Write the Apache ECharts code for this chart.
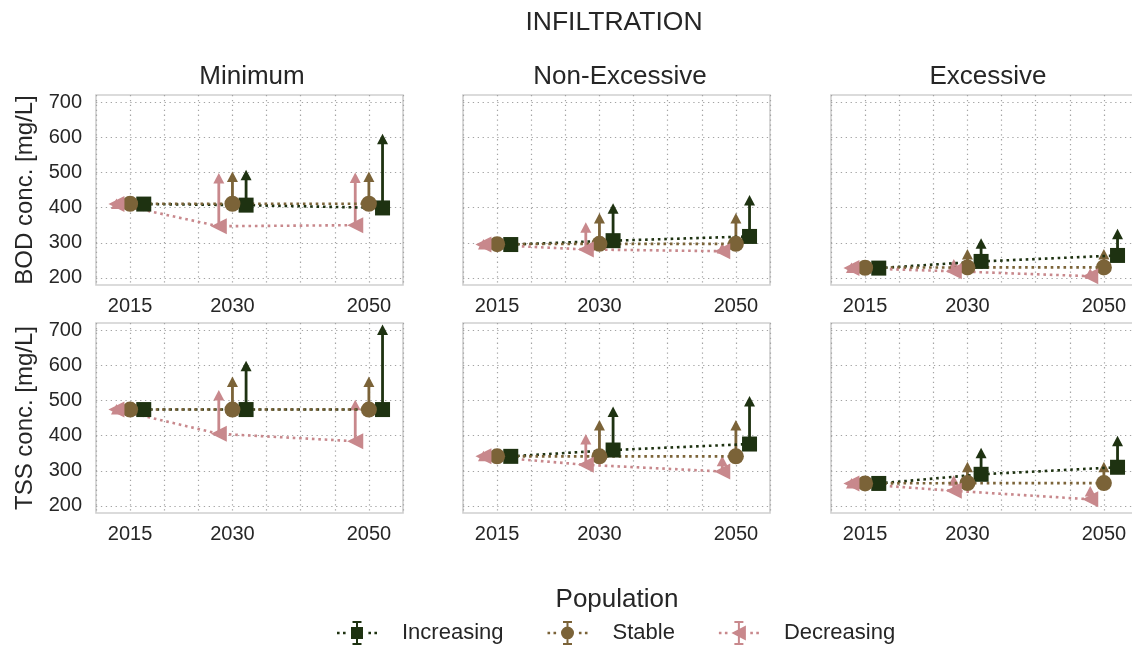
<!DOCTYPE html>
<html><head><meta charset="utf-8">
<script src="https://cdn.jsdelivr.net/npm/echarts@6/dist/echarts.min.js"></script>
<style>html,body{margin:0;padding:0;background:#fff}#c{width:1132px;height:646px}</style>
</head><body><div id="c"></div>
<script>
// ---- data ----
const years = [2015, 2030, 2050];
const xTickLabels = [2015, 2030, 2050];
const yTickValues = [200, 300, 400, 500, 600, 700];
const scenarios = ['Minimum', 'Non-Excessive', 'Excessive'];
const parameters = ['BOD', 'TSS'];
const populations = ['Increasing', 'Stable', 'Decreasing'];

// BOD  (value, upper limit of error bar)
const bodMinInc = [410, 407, 399];   const bodMinIncUp = [410, 492, 594];
const bodMinSta = [411, 411, 411];   const bodMinStaUp = [411, 487, 487];
const bodMinDec = [410, 347, 350];   const bodMinDecUp = [410, 483, 484];
const bodNonInc = [295, 306, 318];   const bodNonIncUp = [295, 397, 420];
const bodNonSta = [296, 297, 297];   const bodNonStaUp = [296, 369, 369];
const bodNonDec = [295, 281, 276];   const bodNonDecUp = [295, 343, 284];
const bodExcInc = [228, 247, 264];   const bodExcIncUp = [228, 297, 324];
const bodExcSta = [229, 230, 230];   const bodExcStaUp = [229, 267, 267];
const bodExcDec = [228, 219, 205];   const bodExcDecUp = [228, 238, 212];
// TSS
const tssMinInc = [474, 474, 474];   const tssMinIncUp = [474, 597, 700];
const tssMinSta = [474, 474, 474];   const tssMinStaUp = [474, 552, 552];
const tssMinDec = [474, 405, 384];   const tssMinDecUp = [474, 514, 486];
const tssNonInc = [341, 359, 376];   const tssNonIncUp = [341, 467, 497];
const tssNonSta = [341, 341, 341];   const tssNonStaUp = [341, 429, 429];
const tssNonDec = [341, 317, 298];   const tssNonDecUp = [341, 389, 327];
const tssExcInc = [264, 290, 310];   const tssExcIncUp = [264, 350, 384];
const tssExcSta = [264, 265, 265];   const tssExcStaUp = [264, 310, 310];
const tssExcDec = [264, 243, 219];   const tssExcDecUp = [264, 272, 241];

const table = {
  BOD: {
    'Minimum':       {Increasing: [bodMinInc, bodMinIncUp], Stable: [bodMinSta, bodMinStaUp], Decreasing: [bodMinDec, bodMinDecUp]},
    'Non-Excessive': {Increasing: [bodNonInc, bodNonIncUp], Stable: [bodNonSta, bodNonStaUp], Decreasing: [bodNonDec, bodNonDecUp]},
    'Excessive':     {Increasing: [bodExcInc, bodExcIncUp], Stable: [bodExcSta, bodExcStaUp], Decreasing: [bodExcDec, bodExcDecUp]}
  },
  TSS: {
    'Minimum':       {Increasing: [tssMinInc, tssMinIncUp], Stable: [tssMinSta, tssMinStaUp], Decreasing: [tssMinDec, tssMinDecUp]},
    'Non-Excessive': {Increasing: [tssNonInc, tssNonIncUp], Stable: [tssNonSta, tssNonStaUp], Decreasing: [tssNonDec, tssNonDecUp]},
    'Excessive':     {Increasing: [tssExcInc, tssExcIncUp], Stable: [tssExcSta, tssExcStaUp], Decreasing: [tssExcDec, tssExcDecUp]}
  }
};

// ---- style ----
const FONT = "'Liberation Sans', Arial, Helvetica, sans-serif";
const TXT = '#262626';
const colors = {Increasing: '#1e3211', Stable: '#7b6338', Decreasing: '#c8888c'};
const dodge = {Increasing: 2, Stable: 0, Decreasing: -2};
const TRI_LEFT = 'path://M0,5L10,0L10,10Z';
const symbols = {Increasing: 'rect', Stable: 'circle', Decreasing: TRI_LEFT};
const symSize = {Increasing: 15, Stable: 16, Decreasing: 16};

const gridLeft = [96, 463, 831];
const gridTop = [95, 323];
const gridW = 307, gridH = 190;

const dots = 'M0,10.8h2.6v2.4h-2.6z M6,10.8h2.6v2.4h-2.6z M31.4,10.8h2.6v2.4h-2.6z M37.4,10.8h2.6v2.4h-2.6z ';
const bar = 'M19,0h2v24h-2z M15.5,0h9v2h-9z M15.5,22h9v2h-9z ';
const legendIcons = {
  Increasing: 'path://' + dots + bar + 'M14,6h12v12h-12z',
  Stable: 'path://' + dots + bar + 'M26.5,12a6.5,6.5 0 1,1 -13,0a6.5,6.5 0 1,1 13,0z',
  Decreasing: 'path://' + dots + bar + 'M12.5,12L27,4.5L27,19.5z'
};

function renderErr(params, api) {
  const x = api.value(0), y = api.value(1), up = api.value(2);
  const p0 = api.coord([x, y]);
  const p1 = api.coord([x, up]);
  const color = api.visual('color');
  const hw = 5.5, hh = 5;
  return {
    type: 'group',
    children: [
      {type: 'line', shape: {x1: p0[0], y1: p0[1], x2: p1[0], y2: p1[1] + 2}, style: {stroke: color, lineWidth: 2.8}},
      {type: 'polygon', shape: {points: [[p1[0], p1[1] - hh - 0.5], [p1[0] - hw, p1[1] + hh], [p1[0] + hw, p1[1] + hh]]}, style: {fill: color}}
    ]
  };
}

const grids = [], xAxes = [], yAxes = [], errSeries = [], lineSeries = [];
parameters.forEach((par, r) => {
  scenarios.forEach((sc, c) => {
    const g = r * 3 + c;
    grids.push({left: gridLeft[c], top: gridTop[r], width: gridW, height: gridH, show: true,
      borderColor: '#cfcfcf', borderWidth: 1.6, backgroundColor: '#fff', outerBoundsMode: 'none', containLabel: false});
    xAxes.push({type: 'value', gridIndex: g, min: 2010, max: 2055, interval: 5,
      axisLine: {show: false}, axisTick: {show: false},
      axisLabel: {show: true, customValues: xTickLabels, formatter: v => String(v), fontSize: 20, color: TXT, fontFamily: FONT, margin: 11},
      splitLine: {show: true, lineStyle: {color: '#a3a3a3', width: 1.2, type: [1.3, 3.6]}}});
    yAxes.push({type: 'value', gridIndex: g, min: 180, max: 720,
      axisLine: {show: false}, axisTick: {show: false, customValues: yTickValues},
      axisLabel: {show: c === 0, customValues: yTickValues, formatter: v => String(v), fontSize: 20, color: TXT, fontFamily: FONT, margin: 14},
      splitLine: {show: true, lineStyle: {color: '#a3a3a3', width: 1.2, type: [1.3, 3.6]}},
      name: c === 0 ? par + ' conc. [mg/L]' : '', nameLocation: 'middle', nameGap: 59,
      nameTextStyle: {fontSize: 24, color: TXT, fontFamily: FONT}});
    populations.forEach(pop => {
      const vals = table[par][sc][pop][0];
      const ups = table[par][sc][pop][1];
      errSeries.push({type: 'custom', name: pop, xAxisIndex: g, yAxisIndex: g, z: 2, silent: true,
        itemStyle: {color: colors[pop]}, renderItem: renderErr, encode: {x: 0, y: [1, 2]},
        data: years.map((yr, i) => [yr + dodge[pop], vals[i], ups[i]]), animation: false});
      lineSeries.push({type: 'line', name: pop, xAxisIndex: g, yAxisIndex: g, z: 3, silent: true,
        symbol: symbols[pop], symbolSize: symSize[pop], showSymbol: true,
        itemStyle: {color: colors[pop], borderWidth: 0},
        lineStyle: {color: colors[pop], width: 2.6, type: [2.6, 3.8]},
        emphasis: {disabled: true},
        data: years.map((yr, i) => [yr + dodge[pop], vals[i]]), animation: false});
    });
  });
});

const titleTexts = [
  {text: 'INFILTRATION', x: 614, y: 23, size: 26.5},
  {text: scenarios[0], x: 252, y: 77, size: 26},
  {text: scenarios[1], x: 620, y: 77, size: 26},
  {text: scenarios[2], x: 988, y: 77, size: 26},
  {text: 'Population', x: 617, y: 600, size: 26}
];

const chart = echarts.init(document.getElementById('c'), null, {renderer: 'canvas'});
chart.setOption({
  backgroundColor: '#ffffff',
  animation: false,
  textStyle: {fontFamily: FONT},
  grid: grids,
  xAxis: xAxes,
  yAxis: yAxes,
  legend: {
    show: true, left: 337, top: 621, orient: 'horizontal', padding: 0,
    itemWidth: 40, itemHeight: 24, itemGap: 44, selectedMode: false,
    itemStyle: {borderWidth: 0},
    textStyle: {fontSize: 22, color: TXT, fontFamily: FONT, padding: [0, 0, 0, 20]},
    data: populations.map(p => ({name: p, icon: legendIcons[p], itemStyle: {color: colors[p], borderWidth: 0}}))
  },
  graphic: titleTexts.map(t => ({type: 'text', x: t.x, y: t.y, silent: true,
    style: {text: t.text, fontSize: t.size, fontFamily: FONT, fill: TXT, textAlign: 'center', textVerticalAlign: 'middle'}})),
  series: errSeries.concat(lineSeries)
});
</script></body></html>
